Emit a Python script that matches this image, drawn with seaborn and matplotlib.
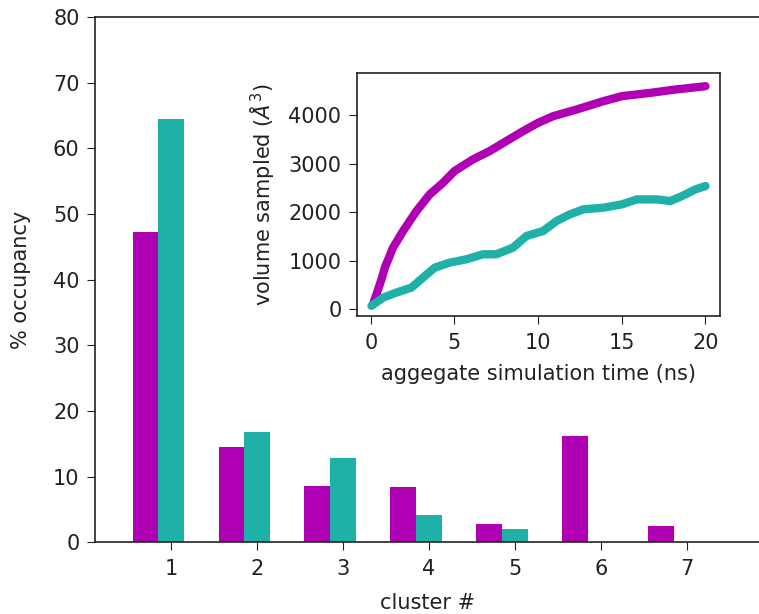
import numpy as np
import matplotlib
matplotlib.use('Agg')
import matplotlib.pyplot as plt
import seaborn as sns

sns.set_style('ticks')
plt.rcParams['font.family'] = ['DejaVu Sans']
plt.rcParams['font.size'] = 15
plt.rcParams['mathtext.fontset'] = 'dejavusans'
plt.rcParams['xtick.major.size'] = 6
plt.rcParams['ytick.major.size'] = 6
plt.rcParams['xtick.major.pad'] = 6
plt.rcParams['ytick.major.pad'] = 5
plt.rcParams['text.color'] = '#222222'
plt.rcParams['axes.labelcolor'] = '#222222'
plt.rcParams['xtick.color'] = '#222222'
plt.rcParams['ytick.color'] = '#222222'

PURPLE = '#b000b4'
TEAL = '#1fb1a8'

clusters = [1, 2, 3, 4, 5, 6, 7]
occ_purple = [47.3, 14.5, 8.5, 8.4, 2.8, 16.2, 2.4]
occ_teal = [64.5, 16.8, 12.8, 4.1, 2.0, 0.0, 0.0]

time_purple = [0.14, 0.64, 0.84, 1.33, 1.93, 2.73, 3.52, 4.32, 5.0, 6.1, 7.1,
               8.1, 9.1, 10.0, 10.9, 12.3, 13.9, 15.0, 16.7, 18.2, 20.0]
vol_purple = [103, 617, 857, 1269, 1612, 2023, 2366, 2606, 2846, 3086, 3258,
              3464, 3669, 3841, 3978, 4115, 4287, 4390, 4458, 4527, 4595]
time_teal = [0.04, 0.74, 1.53, 2.43, 3.12, 3.82, 4.72, 5.71, 6.71, 7.5, 8.5,
             9.3, 10.3, 11.1, 11.9, 12.7, 13.9, 15.0, 15.9, 17.1, 17.9, 18.6,
             19.4, 20.0]
vol_teal = [69, 240, 343, 446, 652, 857, 960, 1029, 1132, 1132, 1269,
            1509, 1612, 1818, 1955, 2058, 2092, 2160, 2263, 2263, 2229, 2332,
            2469, 2538]

fig = plt.figure(figsize=(7.59, 6.14), dpi=100)
ax = fig.add_axes([0.125, 0.117, 0.877, 0.855])

x = np.array(clusters)
width = 0.3
ax.bar(x - width, occ_purple, width=width, color=PURPLE, linewidth=0)
ax.bar(x, occ_teal, width=width, color=TEAL, linewidth=0)
ax.set_xlim(0.11, 7.86)
ax.set_ylim(0, 80)
ax.set_xticks(clusters)
ax.set_yticks(range(0, 81, 10))
ax.set_xlabel('cluster #', labelpad=10)
ax.set_ylabel('% occupancy', labelpad=16)
ax.spines['right'].set_visible(False)
for sp in ax.spines.values():
    sp.set_linewidth(1.2)
    sp.set_color('#222222')

ins = fig.add_axes([0.470, 0.485, 0.478, 0.396])
sns.lineplot(x=time_purple, y=vol_purple, ax=ins, color=PURPLE, linewidth=6,
             solid_capstyle='round')
sns.lineplot(x=time_teal, y=vol_teal, ax=ins, color=TEAL, linewidth=6,
             solid_capstyle='round')
ins.set_xlim(-0.84, 20.84)
ins.set_ylim(-144, 4866)
ins.set_xticks([0, 5, 10, 15, 20])
ins.set_yticks([0, 1000, 2000, 3000, 4000])
ins.set_xlabel('aggegate simulation time (ns)', labelpad=8)
ins.set_ylabel(r'volume sampled ($\AA^3$)', labelpad=8)
for sp in ins.spines.values():
    sp.set_linewidth(1.2)
    sp.set_color('#222222')

fig.savefig('out.png', dpi=100)
